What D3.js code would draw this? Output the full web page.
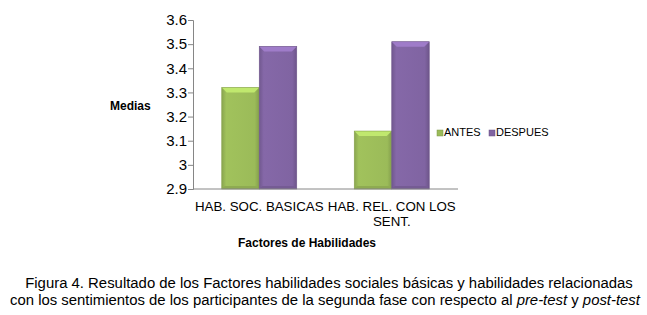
<!DOCTYPE html>
<html><head><meta charset="utf-8">
<script src="https://cdn.jsdelivr.net/npm/d3@7"></script>
<style>body{margin:0;background:#fff}svg{display:block}</style>
</head><body>
<svg id="c" width="647" height="315"></svg>
<script>
const categories = [["HAB. SOC. BASICAS"], ["HAB. REL. CON LOS", "SENT."]];
const seriesNames = ["ANTES", "DESPUES"];
const antes = [3.32, 3.14];
const despues = [3.49, 3.51];
const yTicks = [2.9, 3, 3.1, 3.2, 3.3, 3.4, 3.5, 3.6];
const yTickLabels = ["2.9", "3", "3.1", "3.2", "3.3", "3.4", "3.5", "3.6"];
const colors = ["#9bbb59", "#8064a2"];

(function () {
const svg = d3.select("#c");
const pLeft = 193, pRight = 458, pTop = 20, pBottom = 189;
const y = d3.scaleLinear().domain([2.9, 3.6]).range([pBottom, pTop]);
const x0 = d3.scaleBand().domain(d3.range(categories.length)).range([pLeft, pRight]).paddingInner(0.434).paddingOuter(0.217);
const x1 = d3.scaleBand().domain(seriesNames).range([0, x0.bandwidth()]);

const defs = svg.append("defs");
colors.forEach((c, i) => {
  const g = defs.append("linearGradient").attr("id", "g" + i).attr("x1", 0).attr("x2", 1).attr("y1", 0).attr("y2", 0);
  const base = d3.color(c);
  g.append("stop").attr("offset", "0%").attr("stop-color", base.darker(0.35));
  g.append("stop").attr("offset", "12%").attr("stop-color", base.brighter(0.1));
  g.append("stop").attr("offset", "88%").attr("stop-color", base);
  g.append("stop").attr("offset", "100%").attr("stop-color", base.darker(0.45));
});

const data = [];
categories.forEach((c, i) => {
  data.push({ci: i, s: 0, v: antes[i]});
  data.push({ci: i, s: 1, v: despues[i]});
});

const bars = svg.append("g");
data.forEach(d => {
  const bx = x0(d.ci) + x1(seriesNames[d.s]);
  const bw = x1.bandwidth();
  const by = y(d.v), bh = y(2.9) - y(d.v);
  const base = d3.color(colors[d.s]);
  const g = bars.append("g");
  g.append("rect").attr("x", bx).attr("y", by).attr("width", bw).attr("height", bh).attr("fill", `url(#g${d.s})`);
  const b = 5;
  g.append("path").attr("d", `M${bx},${by} L${bx + bw},${by} L${bx + bw - b},${by + b} L${bx + b},${by + b} Z`).attr("fill", base.brighter(0.6));
  g.append("path").attr("d", `M${bx},${by + bh} L${bx + bw},${by + bh} L${bx + bw - 3},${by + bh - 3} L${bx + 3},${by + bh - 3} Z`).attr("fill", base.darker(0.25));
  g.append("rect").attr("x", bx).attr("y", by).attr("width", bw).attr("height", bh).attr("fill", "none").attr("stroke", base.darker(0.4)).attr("stroke-width", 0.6);
});

const yAxis = d3.axisLeft(y).tickValues(yTicks).tickFormat((d, i) => yTickLabels[i]).tickSize(5).tickPadding(1);
const ya = svg.append("g").attr("transform", `translate(${pLeft},0)`).call(yAxis);
ya.select(".domain").attr("stroke", "#868686");
ya.selectAll(".tick line").attr("stroke", "#868686");
ya.selectAll(".tick text").attr("font-family", "Arial, 'Liberation Sans', sans-serif").attr("font-size", 15).attr("fill", "#000");

svg.append("line").attr("x1", pLeft).attr("x2", pRight).attr("y1", pBottom).attr("y2", pBottom).attr("stroke", "#868686");

categories.forEach((lines, i) => {
  const cx = x0(i) + x0.bandwidth() / 2;
  const t = svg.append("text").attr("text-anchor", "middle").attr("font-family", "Arial, 'Liberation Sans', sans-serif").attr("font-size", 13.3).attr("fill", "#000");
  lines.forEach((l, j) => t.append("tspan").attr("x", cx).attr("y", 211 + j * 14.5).text(l));
});

svg.append("text").attr("x", 307).attr("y", 247).attr("text-anchor", "middle").attr("font-family", "Arial, 'Liberation Sans', sans-serif").attr("font-size", 12).attr("font-weight", "bold").text("Factores de Habilidades");
svg.append("text").attr("x", 110).attr("y", 110).attr("font-family", "Arial, 'Liberation Sans', sans-serif").attr("font-size", 12).attr("font-weight", "bold").text("Medias");

const lg = svg.append("g").attr("font-family", "Arial, 'Liberation Sans', sans-serif").attr("font-size", 11);
const legX = [437, 489];
seriesNames.forEach((s, i) => {
  lg.append("rect").attr("x", legX[i]).attr("y", 130).attr("width", 6).attr("height", 6).attr("fill", colors[i]).attr("stroke", d3.color(colors[i]).darker(0.6)).attr("stroke-width", 0.5);
  lg.append("text").attr("x", legX[i] + 7).attr("y", 136).text(s);
});

const cap = svg.append("text").attr("text-anchor", "middle").attr("font-family", "'Liberation Sans Narrow', 'Arial Narrow', sans-serif").attr("font-size", 14.9).attr("fill", "#000");
cap.append("tspan").attr("x", 329).attr("y", 288).text("Figura 4. Resultado de los Factores habilidades sociales básicas y habilidades relacionadas");
const l2 = cap.append("tspan").attr("x", 325).attr("y", 305);
l2.append("tspan").text("con los sentimientos de los participantes de la segunda fase con respecto al ");
l2.append("tspan").attr("font-style", "italic").text("pre-test");
l2.append("tspan").text(" y ");
l2.append("tspan").attr("font-style", "italic").text("post-test");
})();
</script>
</body></html>
